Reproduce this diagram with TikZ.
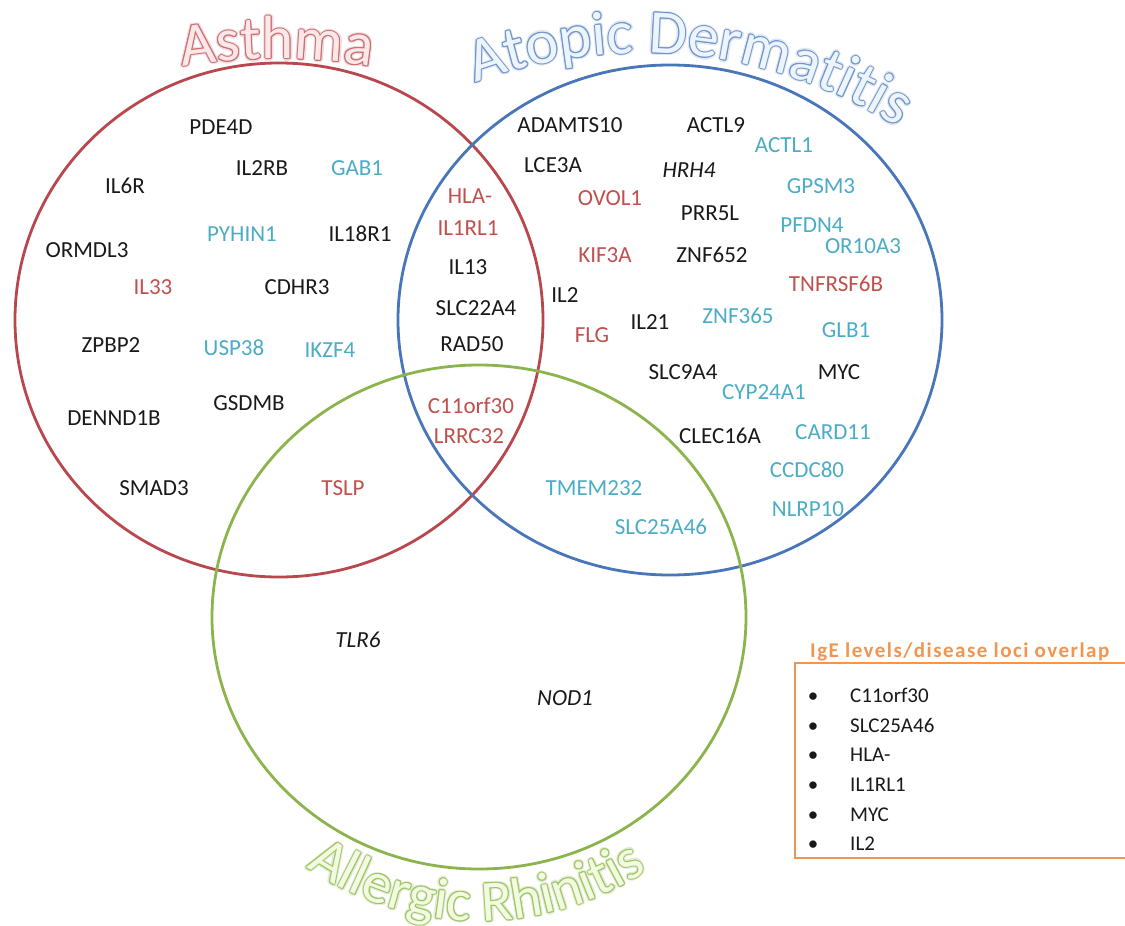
\documentclass[tikz,border=0pt]{standalone}
\usepackage{fontspec}
\setmainfont{Carlito}
\usetikzlibrary{decorations.text}
\definecolor{cred}{RGB}{184,72,78}
\definecolor{cblue}{RGB}{72,118,184}
\definecolor{cgreen}{RGB}{140,180,76}
\definecolor{lred}{RGB}{192,80,77}
\definecolor{lcyan}{RGB}{75,172,198}
\definecolor{lblack}{RGB}{25,25,25}
\definecolor{corange}{RGB}{240,150,80}
\definecolor{tred}{RGB}{205,110,115}
\definecolor{tredfill}{RGB}{252,232,232}
\definecolor{tredglow}{RGB}{240,220,220}
\definecolor{tblue}{RGB}{110,150,205}
\definecolor{tbluefill}{RGB}{238,244,252}
\definecolor{tblueglow}{RGB}{222,230,240}
\definecolor{tgreen}{RGB}{160,198,100}
\definecolor{tgreenfill}{RGB}{242,250,226}
\definecolor{tgreenglow}{RGB}{228,236,215}
\newcommand{\arctitle}[6]{%
  \foreach \dx/\dy in {2.2/0,-2.2/0,0/2.2,0/-2.2,1.6/1.6,-1.6/1.6,1.6/-1.6,-1.6/-1.6}{%
    \path[shift={(\dx,\dy)},decorate,decoration={text along path,text align=center,
      text={|\fontsize{#5}{#5}\selectfont|#2},text color=#6}] #1;
  }%
  \foreach \dx/\dy in {1/0,-1/0,0/1,0/-1,0.7/0.7,-0.7/0.7,0.7/-0.7,-0.7/-0.7}{%
    \path[shift={(\dx,\dy)},decorate,decoration={text along path,text align=center,
      text={|\fontsize{#5}{#5}\selectfont|#2},text color=#3}] #1;
  }%
  \path[decorate,decoration={text along path,text align=center,
      text={|\fontsize{#5}{#5}\selectfont|#2},text color=#4}] #1;
}
\begin{document}
\begin{tikzpicture}[x=1pt,y=1pt,
  gene/.style={font=\fontsize{23}{23}\selectfont,inner sep=0pt,text height=15pt,text depth=0pt,anchor=center},
  gk/.style={gene,text=lblack},
  gr/.style={gene,text=lred},
  gc/.style={gene,text=lcyan},
  gi/.style={gene,text=lblack,font=\fontsize{23}{23}\selectfont\itshape},
  venn/.style={line width=2.8pt},
  legtext/.style={font=\fontsize{21}{21}\selectfont,text=lblack,inner sep=0pt,anchor=west,text height=14pt,text depth=0pt},
  legbul/.style={font=\fontsize{21}{21}\selectfont,text=lblack,inner sep=0pt,anchor=center,text height=14pt,text depth=0pt}]
\useasboundingbox (0,0) rectangle (1125,-926);
\fill[white] (0,0) rectangle (1125,-926);

% circles
\draw[venn,cred] (279,-320) ellipse[x radius=264,y radius=257];
\draw[venn,cblue] (670,-320) ellipse[x radius=272,y radius=255];
\draw[venn,cgreen] (479,-617) ellipse[x radius=267,y radius=252];

% titles
\arctitle{([shift={(100:600)}]277,-659) arc[start angle=100,end angle=80,radius=600]}{Asthma}{tred}{tredfill}{61}{tredglow}
\arctitle{([shift={(113:477)}]642,-530) arc[start angle=113,end angle=55,radius=477]}{Atopic Dermatitis}{tblue}{tbluefill}{62}{tblueglow}
\arctitle{([shift={(226:304)}]479,-617) arc[start angle=226,end angle=313,radius=304]}{Allergic Rhinitis}{tgreen}{tgreenfill}{58}{tgreenglow}

% Asthma only
\node[gk] (pde4d) at (221,-127) {PDE4D};
\node[gk] (il2rb) at (262,-168) {IL2RB};
\node[gc] (gab1) at (357,-168) {GAB1};
\node[gk] (il6r) at (125,-186) {IL6R};
\node[gk] (ormdl3) at (87,-250) {ORMDL3};
\node[gc] (pyhin1) at (242,-234) {PYHIN1};
\node[gk] (il18r1) at (360,-234) {IL18R1};
\node[gr] (il33) at (153,-287) {IL33};
\node[gk] (cdhr3) at (297,-287) {CDHR3};
\node[gk] (zpbp2) at (111,-345) {ZPBP2};
\node[gc] (usp38) at (234,-348) {USP38};
\node[gc] (ikzf4) at (330,-350) {IKZF4};
\node[gk] (dennd1b) at (114,-418) {DENND1B};
\node[gk] (gsdmb) at (249,-403) {GSDMB};
\node[gk] (smad3) at (154,-488) {SMAD3};
\node[gr] (tslp) at (343,-488) {TSLP};

% Asthma & AD
\node[gr] (hla) at (470,-196) {HLA-};
\node[gr] (il1rl1) at (468,-228) {IL1RL1};
\node[gk] (il13) at (468,-267) {IL13};
\node[gk] (slc22a4) at (476,-308) {SLC22A4};
\node[gk] (rad50) at (472,-344) {RAD50};
\node[gr] (c11orf30) at (471,-406) {C11orf30};
\node[gr] (lrrc32) at (469,-436) {LRRC32};

% AD only
\node[gk] (adamts10) at (570,-125) {ADAMTS10};
\node[gk] (actl9) at (716,-125) {ACTL9};
\node[gk] (lce3a) at (553,-165) {LCE3A};
\node[gi] (hrh4) at (689,-170) {HRH4};
\node[gc] (actl1) at (784,-145) {ACTL1};
\node[gr] (ovol1) at (610,-198) {OVOL1};
\node[gc] (gpsm3) at (821,-186) {GPSM3};
\node[gk] (prr5l) at (710,-213) {PRR5L};
\node[gc] (pfdn4) at (812,-225) {PFDN4};
\node[gc] (or10a3) at (863,-246) {OR10A3};
\node[gr] (kif3a) at (605,-255) {KIF3A};
\node[gk] (znf652) at (712,-255) {ZNF652};
\node[gr] (tnfrsf6b) at (836,-284) {TNFRSF6B};
\node[gk] (il2) at (565,-295) {IL2};
\node[gk] (il21) at (650,-322) {IL21};
\node[gc] (znf365) at (738,-316) {ZNF365};
\node[gc] (glb1) at (846,-330) {GLB1};
\node[gr] (flg) at (592,-335) {FLG};
\node[gk] (slc9a4) at (683,-372) {SLC9A4};
\node[gk] (myc) at (839,-372) {MYC};
\node[gc] (cyp24a1) at (764,-392) {CYP24A1};
\node[gk] (clec16a) at (720,-436) {CLEC16A};
\node[gc] (card11) at (833,-432) {CARD11};
\node[gc] (ccdc80) at (807,-470) {CCDC80};
\node[gc] (nlrp10) at (808,-509) {NLRP10};

% AD & AR
\node[gc] (tmem232) at (594,-488) {TMEM232};
\node[gc] (slc25a46) at (661,-527) {SLC25A46};

% AR only
\node[gi] (tlr6) at (358,-640) {TLR6};
\node[gi] (nod1) at (565,-698) {NOD1};

% legend
\node[font=\fontsize{21}{21}\selectfont\bfseries\addfontfeature{LetterSpace=7}\selectfont,text=corange,inner sep=0pt,anchor=west,text height=13pt,text depth=0pt] (legtitle) at (810,-651) {IgE levels/disease loci overlap};
\draw[corange,line width=2.8pt] (1135,-663) -- (795,-663) -- (795,-858) -- (1135,-858);
\node[legbul] (b1) at (813,-695) {\textbullet}; \node[legtext] (l1) at (850,-695) {C11orf30};
\node[legbul] (b2) at (813,-725) {\textbullet}; \node[legtext] (l2) at (850,-725) {SLC25A46};
\node[legbul] (b3) at (813,-754) {\textbullet}; \node[legtext] (l3) at (850,-754) {HLA-};
\node[legbul] (b4) at (813,-784) {\textbullet}; \node[legtext] (l4) at (850,-784) {IL1RL1};
\node[legbul] (b5) at (813,-814) {\textbullet}; \node[legtext] (l5) at (850,-814) {MYC};
\node[legbul] (b6) at (813,-843) {\textbullet}; \node[legtext] (l6) at (850,-843) {IL2};
\end{tikzpicture}
\end{document}
